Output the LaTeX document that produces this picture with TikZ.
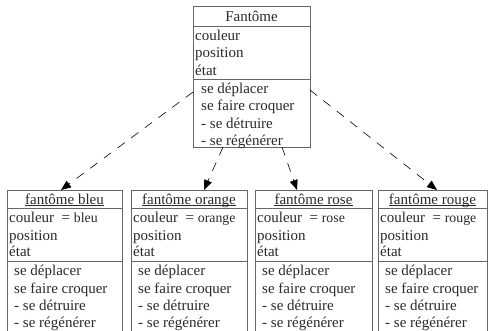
\documentclass[tikz,border=0pt]{standalone}
\usepackage{fontspec}
\setmainfont{Liberation Serif}
\usetikzlibrary{arrows.meta}
\definecolor{boxcol}{HTML}{666666}
\definecolor{txtcol}{HTML}{2A2A2A}
\newcommand\ghostbox[4]{% name, left x, width, colour word
  \node[box, anchor=north west, minimum width=#3pt, minimum height=160pt] (#1) at (#2,190) {};
  \draw[sepline] (#2,208) -- ++(#3,0);
  \draw[sepline] (#2,261) -- ++(#3,0);
  \node[txt, anchor=base] (#1-title) at (#2+#3/2,204) {fantôme #4};
  \draw[ulline] ([yshift=-1.6pt]#1-title.base west) -- ([yshift=-1.6pt]#1-title.base east);
  \node[txt] (#1-a1) at (#2+2,222) {couleur~ = {\fontsize{13.8}{16}\selectfont #4}};
  \node[txt] (#1-a2) at (#2+2,240) {position};
  \node[txt] (#1-a3) at (#2+2,256) {état};
  \node[txt] (#1-m1) at (#2+7,275) {se déplacer};
  \node[txt] (#1-m2) at (#2+7,293) {se faire croquer};
  \node[txt] (#1-m3) at (#2+7,310) {- se détruire};
  \node[txt] (#1-m4) at (#2+7,327) {- se régénérer};
}
\begin{document}
\begin{tikzpicture}[x=1pt,y=-1pt,
  box/.style={draw=boxcol, line width=0.9pt, inner sep=0pt, fill=white},
  sepline/.style={draw=boxcol, line width=0.9pt},
  ulline/.style={draw=txtcol, line width=0.6pt},
  txt/.style={anchor=base west, inner sep=0pt, text=txtcol, font=\fontsize{15}{17.5}\selectfont},
  dep/.style={draw=black, line width=0.6pt, dash pattern=on 9pt off 8pt, -{Triangle[length=10pt,width=8pt]}}]
\useasboundingbox (0,0) rectangle (489,330);
\clip (0,0) rectangle (489,330);
\fill[white] (0,0) rectangle (489,330);
% top class
\node[box, anchor=north west, minimum width=117pt, minimum height=141pt] (top) at (193,6) {};
\draw[sepline] (193,26) -- (310,26);
\draw[sepline] (193,79) -- (310,79);
\node[txt, anchor=base] (top-title) at (251.5,21) {Fantôme};
\node[txt] (top-a1) at (195,40) {couleur};
\node[txt] (top-a2) at (195,57.5) {position};
\node[txt] (top-a3) at (195,75) {état};
\node[txt] (top-m1) at (201,93) {se déplacer};
\node[txt] (top-m2) at (201,110.5) {se faire croquer};
\node[txt] (top-m3) at (201,128) {- se détruire};
\node[txt] (top-m4) at (201,145.5) {- se régénérer};
% sub classes
\ghostbox{b1}{7}{115}{bleu}
\ghostbox{b2}{131}{116}{orange}
\ghostbox{b3}{255}{117}{rose}
\ghostbox{b4}{378}{109}{rouge}
% connector end points
\coordinate (s1) at (193,92);
\coordinate (s2) at (223,147);
\coordinate (s3) at (282,147);
\coordinate (s4) at (310,90);
\coordinate (e1) at (61,190);
\coordinate (e2) at (204,190);
\coordinate (e3) at (297,190);
\coordinate (e4) at (437,190);
\draw[dep] (s1) -- (e1);
\draw[dep] (s2) -- (e2);
\draw[dep] (s3) -- (e3);
\draw[dep] (s4) -- (e4);
\end{tikzpicture}
\end{document}
